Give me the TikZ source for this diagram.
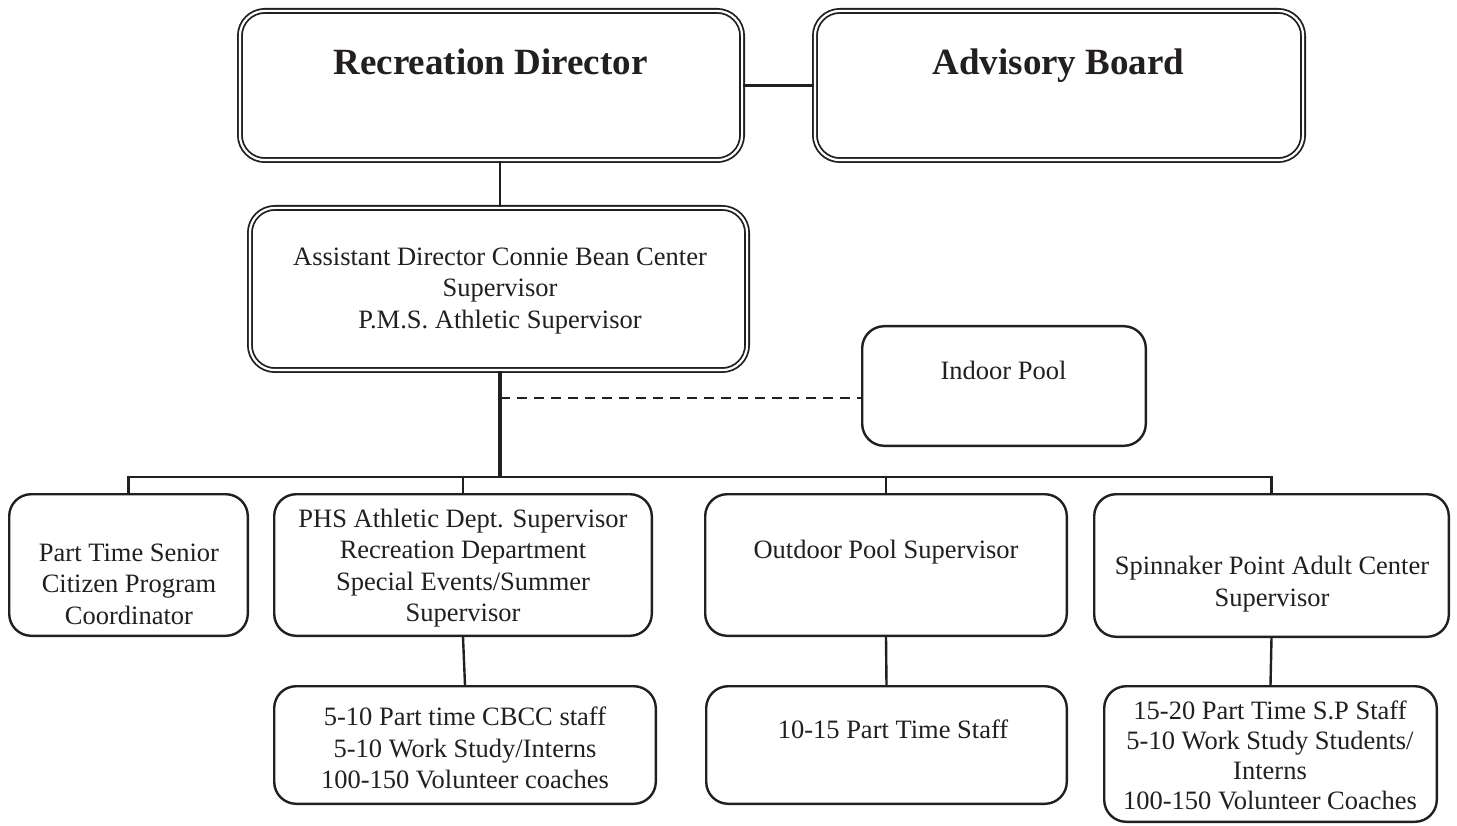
\documentclass[tikz,border=0pt]{standalone}
\usepackage{fontspec}
\setmainfont{Liberation Serif}
\definecolor{ink}{HTML}{231F20}
\begin{document}
\begin{tikzpicture}[x=1pt,y=-1pt,
  box/.style={draw=ink, line width=2.4pt, rounded corners=22pt, fill=white, inner sep=0pt},
  dbox/.style={draw=ink, double=white, double distance=2.2pt, line width=1.8pt,
               rounded corners=25pt, fill=white, inner sep=0pt},
  txt/.style={text=ink, font=\fontsize{26.5}{31.5}\selectfont, align=center, inner sep=0pt},
  head/.style={text=ink, font=\fontsize{37}{44}\selectfont\bfseries, inner sep=0pt},
  conn/.style={draw=ink, line width=2.4pt},
  thinconn/.style={draw=ink, line width=1.3pt},
  trunkline/.style={draw=ink, line width=3.2pt},
  dashconn/.style={draw=ink, line width=2pt, dash pattern=on 10pt off 7pt}]
\useasboundingbox (0,0) rectangle (1457,826);

% top level
\node[dbox, minimum width=502.2pt, minimum height=149.2pt] (rd) at (491,85.5) {};
\node[dbox, minimum width=488.2pt, minimum height=149.2pt] (ab) at (1059,85.5) {};
\node[head, anchor=base] (rd-t) at (490.5,75) {Recreation Director};
\node[head, anchor=base] (ab-t) at (1058.5,75) {Advisory Board};

% assistant director
\node[dbox, minimum width=497.2pt, minimum height=162.2pt] (ad) at (498.5,289) {};
\node[txt] (ad-t) at (500,291) {Assistant Director Connie Bean Center\\Supervisor\\P.M.S. Athletic Supervisor};

% indoor pool
\node[box, minimum width=283.6pt, minimum height=119.6pt] (ip) at (1004,386) {};
\node[txt, anchor=base] (ip-t) at (1003.5,379) {Indoor Pool};

% second row
\node[box, minimum width=238.6pt, minimum height=141.6pt] (b1) at (128.5,565) {};
\node[txt] (b1-t) at (129,584) {Part Time Senior\\Citizen Program\\Coordinator};

\node[box, minimum width=377.6pt, minimum height=141.6pt] (phs) at (463,565) {};
\node[txt] (phs-t) at (463,568) {PHS Athletic Dept. Supervisor\\Recreation Department\\Special Events/Summer\\Supervisor};

\node[box, minimum width=361.6pt, minimum height=141.6pt] (op) at (886,565) {};
\node[txt, anchor=base] (op-t) at (886,558) {Outdoor Pool Supervisor};

\node[box, minimum width=354.6pt, minimum height=142.6pt] (sp) at (1271.5,565.5) {};
\node[txt] (sp-t) at (1272,584) {Spinnaker Point Adult Center\\Supervisor};

% third row
\node[box, minimum width=381.6pt, minimum height=117.6pt] (s1) at (465,745) {};
\node[txt] (s1-t) at (465,748) {5-10 Part time CBCC staff\\5-10 Work Study/Interns\\100-150 Volunteer coaches};

\node[box, minimum width=360.6pt, minimum height=117.6pt] (os) at (886.5,745) {};
\node[txt, anchor=base] (os-t) at (893,738) {10-15 Part Time Staff};

\node[box, minimum width=332.6pt, minimum height=135.6pt] (ss) at (1270.5,754) {};
\node[txt, font=\fontsize{26.5}{30}\selectfont] (ss-t) at (1270,755) {15-20 Part Time S.P Staff\\5-10 Work Study Students/\\Interns\\100-150 Volunteer Coaches};

% connectors
\coordinate (bus) at (500,477);
\coordinate (tap) at (500,398);
\draw[conn] (rd.east) -- (ab.west);
\draw[conn] (rd.south -| bus) -- (ad.north -| bus);
\draw[trunkline] (ad.south -| bus) -- (bus);
\draw[dashconn] (tap) -- (ip.west |- tap);
\draw[conn] (b1.north) |- (bus) -| (sp.north);
\draw[conn] (phs.north) -- (phs.north |- bus);
\draw[thinconn] (op.north) -- (op.north |- bus);
\draw[conn] (phs.south) -- (s1.north);
\draw[conn] (op.south) -- (os.north);
\draw[conn] (sp.south) -- (ss.north);
\end{tikzpicture}
\end{document}
